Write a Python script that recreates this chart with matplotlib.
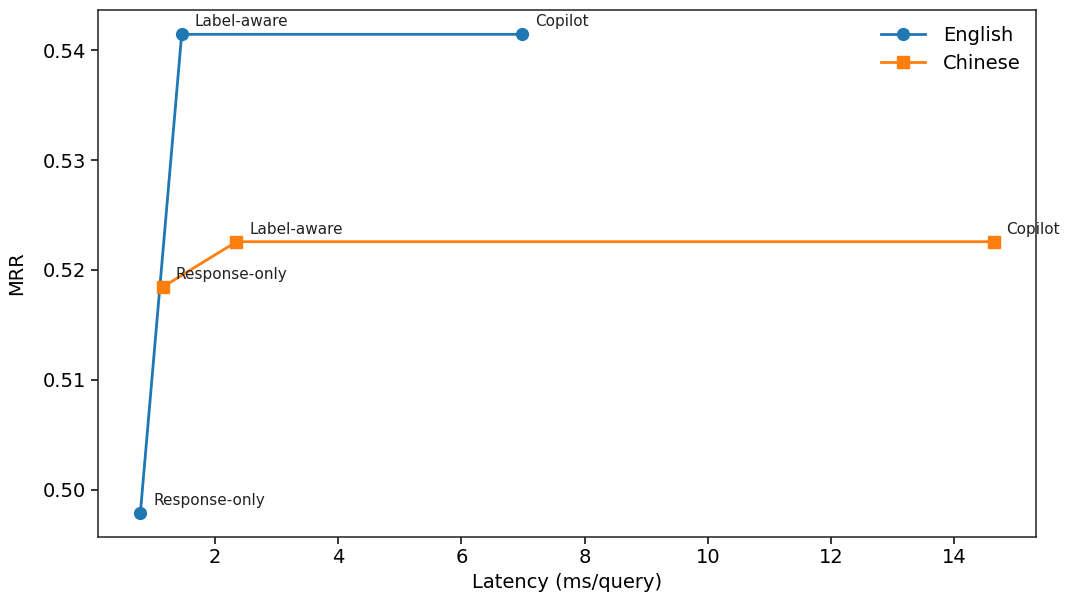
import matplotlib
matplotlib.use("Agg")
import matplotlib.pyplot as plt

# Latency (ms/query) vs. MRR for the three ranking variants
methods = ["Response-only", "Label-aware", "Copilot"]
english_latency = [0.79, 1.46, 6.99]
english_mrr = [0.4979, 0.54145, 0.54145]
chinese_latency = [1.15, 2.35, 14.64]
chinese_mrr = [0.51843, 0.52257, 0.52257]

fig = plt.figure(figsize=(10.67, 5.95), dpi=100)
ax = fig.add_axes([0.0916, 0.0983, 0.8796, 0.8842])

ax.plot(english_latency, english_mrr, marker="o", color="#1f77b4",
        linewidth=2.0, markersize=8.5, label="English")
ax.plot(chinese_latency, chinese_mrr, marker="s", color="#ff7f0e",
        linewidth=2.0, markersize=8.5, label="Chinese")

for name, x, y in zip(methods, english_latency, english_mrr):
    ax.annotate(name, (x, y), xytext=(13, 8), textcoords="offset pixels",
                fontsize=11, color="#222222")
for name, x, y in zip(methods, chinese_latency, chinese_mrr):
    ax.annotate(name, (x, y), xytext=(13, 8), textcoords="offset pixels",
                fontsize=11, color="#222222", annotation_clip=False)

ax.set_xticks([2, 4, 6, 8, 10, 12, 14])
ax.set_yticks([0.50, 0.51, 0.52, 0.53, 0.54])
ax.set_yticklabels(["0.50", "0.51", "0.52", "0.53", "0.54"])
ax.tick_params(labelsize=14, length=5, width=1.1)
for s in ax.spines.values():
    s.set_linewidth(1.1)
    s.set_color("#222222")

ax.set_xlabel("Latency (ms/query)", fontsize=14, labelpad=4)
ax.set_ylabel("MRR", fontsize=14, labelpad=12)

ax.legend(loc="upper right", frameon=False, fontsize=14,
          handlelength=2.3, borderaxespad=0.3, labelspacing=0.45,
          handletextpad=0.9, borderpad=0.5)

fig.savefig("out.png", dpi=100)
